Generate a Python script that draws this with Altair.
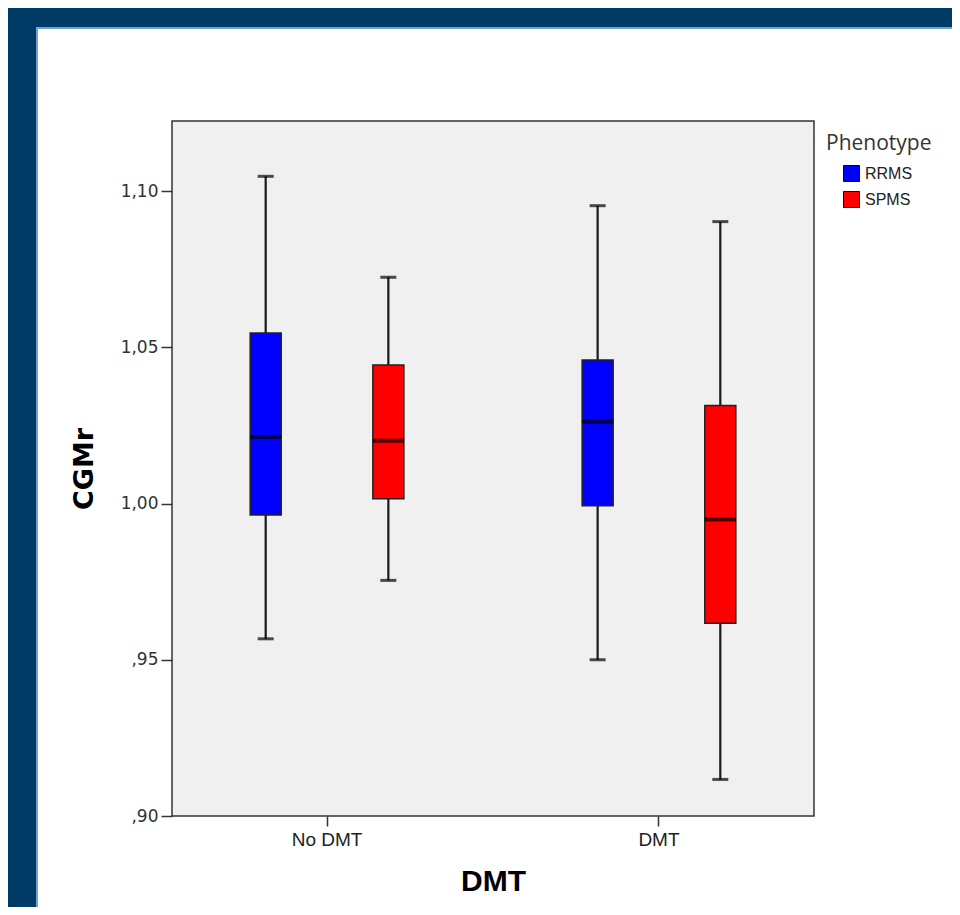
import altair as alt
import pandas as pd

# ---- data ----
dmt = ["No DMT", "No DMT", "DMT", "DMT"]
phenotype = ["RRMS", "SPMS", "RRMS", "SPMS"]
whisker_low = [0.9567, 0.9754, 0.9500, 0.9117]
q1 = [0.9963, 1.0015, 0.9993, 0.9617]
median = [1.0213, 1.0201, 1.0262, 0.9949]
q3 = [1.0546, 1.0443, 1.0459, 1.0314]
whisker_high = [1.1047, 1.0724, 1.0953, 1.0902]

dmt_order = ["No DMT", "DMT"]
pheno_order = ["RRMS", "SPMS"]
pheno_colors = ["#0000ff", "#ff0000"]
y_ticks = [0.90, 0.95, 1.00, 1.05, 1.10]

df = pd.DataFrame({
    "DMT": dmt, "Phenotype": phenotype, "lo": whisker_low, "q1": q1,
    "median": median, "q3": q3, "hi": whisker_high,
})

W, H = 642, 695
NAVY = "#003b66"

y_scale = alt.Scale(domain=[0.90, 1.1224], nice=False, zero=False)
y_axis = alt.Axis(
    values=y_ticks, grid=False, domain=False, zindex=1,
    labelExpr="datum.value < 1 ? ',' + substring(format(datum.value, '.2f'), 2) : replace(format(datum.value, '.2f'), '.', ',')",
    tickSize=11, tickWidth=1.5, tickColor="#333333",
    labelFont="DejaVu Sans", labelFontSize=17, labelColor="#333333", labelPadding=3,
    title="CGMr", titleFont="DejaVu Sans", titleFontSize=27, titleFontWeight="bold",
    titleColor="#000000", titlePadding=22,
)
x_axis = alt.Axis(
    grid=False, domain=False, zindex=1, labelAngle=0,
    tickSize=10, tickWidth=1.5, tickColor="#333333",
    labelFont="Liberation Sans", labelFontSize=19, labelColor="#222222", labelPadding=4,
    title="DMT", titleFont="Liberation Sans", titleFontSize=30, titleFontWeight="bold",
    titleColor="#000000", titlePadding=17,
)

base = alt.Chart(df).encode(
    x=alt.X("DMT:N", sort=dmt_order, axis=x_axis,
            scale=alt.Scale(paddingInner=0.2, paddingOuter=0.067)),
    xOffset=alt.XOffset("Phenotype:N", sort=pheno_order,
                        scale=alt.Scale(paddingInner=0.747, paddingOuter=0.456)),
)

one = alt.Data(values=[{"k": 1}])
navy = alt.Chart(one).mark_rect(fill=NAVY).encode(
    x=alt.value(-164), x2=alt.value(780), y=alt.value(-113), y2=alt.value(786))
blue_edge = alt.Chart(one).mark_rect(fill="#6fa3dc").encode(
    x=alt.value(-136), x2=alt.value(780), y=alt.value(-94), y2=alt.value(786))
white = alt.Chart(one).mark_rect(fill="#ffffff").encode(
    x=alt.value(-134), x2=alt.value(780), y=alt.value(-92), y2=alt.value(786))
plot_bg = alt.Chart(one).mark_rect(fill="#f0f0f0", stroke="#333333", strokeWidth=1.5).encode(
    x=alt.value(0), x2=alt.value(W), y=alt.value(0), y2=alt.value(H))

whiskers = base.mark_rule(color="#1a1a1a", strokeWidth=2.2).encode(
    y=alt.Y("lo:Q", scale=y_scale, axis=y_axis), y2="hi:Q")
cap_lo = base.mark_tick(color="#000000", size=16, thickness=3).encode(
    y=alt.Y("lo:Q", scale=y_scale, axis=y_axis))
cap_hi = base.mark_tick(color="#000000", size=16, thickness=3).encode(
    y=alt.Y("hi:Q", scale=y_scale, axis=y_axis))
boxes = base.mark_bar(stroke="#222222", strokeWidth=1.5).encode(
    y=alt.Y("q1:Q", scale=y_scale, axis=y_axis), y2="q3:Q",
    fill=alt.Fill("Phenotype:N", sort=pheno_order,
                  scale=alt.Scale(domain=pheno_order, range=pheno_colors),
                  legend=alt.Legend(
                      title="Phenotype", orient="none", legendX=654, legendY=12,
                      padding=0, zindex=1,
                      titleFont="Open Sans", titleFontSize=21, titleFontWeight="normal",
                      titleColor="#333333", titlePadding=11,
                      labelFont="Liberation Sans", labelFontSize=16, labelColor="#222222",
                      labelOffset=5, symbolType="square", symbolSize=256,
                      symbolStrokeColor="#000000", symbolStrokeWidth=1,
                      symbolOffset=17, rowPadding=5)))
medians = base.mark_tick(color="#000000", size=31, thickness=4).encode(
    y=alt.Y("median:Q", scale=y_scale, axis=y_axis))

chart = alt.layer(
    navy, blue_edge, white, plot_bg, whiskers, cap_lo, cap_hi, boxes, medians
).properties(
    width=W, height=H, padding=0, background="#ffffff"
).configure_view(stroke="transparent")

chart.save("out.html", embed_options={"renderer": "svg", "actions": False})
